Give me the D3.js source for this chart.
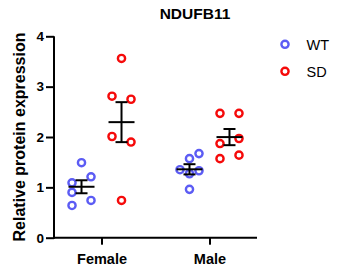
<!DOCTYPE html>
<html lang="en">

<head>
    <meta charset="utf-8">
    <title>NDUFB11</title>

    <style type="text/css">
        body {
            margin: 0;
            background-color: white;
        }
        text {
            font-family: "Liberation Sans", Arial, sans-serif;
        }
    </style>

    <script type="text/javascript" src="https://cdnjs.cloudflare.com/ajax/libs/d3/7.8.5/d3.min.js"></script>
</head>

<body>
    <script type="text/javascript">
        var w = 339
        var h = 270

        // data
        var categories = ["Female", "Male"];
        var groups = ["WT", "SD"];
        var yTicks = [0, 1, 2, 3, 4];

        var femaleWT = [1.49, 1.21, 1.09, 0.90, 0.74, 0.64];
        var femaleSD = [3.56, 2.81, 2.75, 2.01, 1.90, 0.74];
        var maleWT = [1.67, 1.57, 1.35, 1.33, 1.27, 0.96];
        var maleSD = [2.47, 2.47, 1.87, 1.97, 1.57, 1.64];

        // scatter lane of each point (-1 left, 0 middle, 1 right)
        var femaleWTLane = [0, 1, -1, -1, 1, -1];
        var femaleSDLane = [0, -1, 1, -1, 1, 0];
        var maleWTLane = [1, 0, -1, 1, 0, 0];
        var maleSDLane = [-1, 1, -1, 1, -1, 1];

        var colors = { WT: "#5c5cf4", SD: "#f50a0a" };

        var sets = [
            { cat: "Female", group: "WT", values: femaleWT, lanes: femaleWTLane },
            { cat: "Female", group: "SD", values: femaleSD, lanes: femaleSDLane },
            { cat: "Male", group: "WT", values: maleWT, lanes: maleWTLane },
            { cat: "Male", group: "SD", values: maleSD, lanes: maleSDLane }
        ];

        var plotLeft = 54, plotRight = 257, plotTop = 36.3, plotBottom = 237.7;

        var svg = d3.select("body")
                    .append("svg")
                    .attr("width", w)
                    .attr("height", h);

        var x = d3.scalePoint()
                  .domain(categories)
                  .range([plotLeft, plotRight])
                  .padding(0.44);

        var xGroup = d3.scalePoint()
                       .domain(groups)
                       .range([-20, 20]);

        var y = d3.scaleLinear()
                  .domain([0, 4])
                  .range([plotBottom, plotTop]);

        var laneStep = 9.5;

        // axes
        var yAxis = svg.append("g")
                       .attr("transform", "translate(" + plotLeft + ",0)")
                       .call(d3.axisLeft(y).tickValues(yTicks).tickSize(8).tickPadding(2).tickFormat(d3.format("d")));

        var xAxis = svg.append("g")
                       .attr("transform", "translate(0," + plotBottom + ")")
                       .call(d3.axisBottom(x).tickSize(7).tickPadding(9).tickSizeOuter(0));

        svg.selectAll(".domain, .tick line")
           .attr("stroke", "black")
           .attr("stroke-width", 2);

        // x axis line runs the whole plot width
        xAxis.select(".domain").attr("d", "M" + (plotLeft - 1) + ",0H" + plotRight);
        yAxis.select(".domain").attr("d", "M0," + y(4) + "V" + (plotBottom + 1));

        yAxis.selectAll("text")
             .attr("font-size", "13.5px")
             .attr("font-weight", "bold")
             .attr("fill", "black");

        xAxis.selectAll("text")
             .attr("font-size", "14.5px")
             .attr("font-weight", "bold")
             .attr("fill", "black");

        // points
        sets.forEach(function (s) {
            var cx = x(s.cat) + xGroup(s.group);
            svg.append("g")
               .selectAll("circle")
               .data(s.values)
               .enter()
               .append("circle")
               .attr("cx", function (d, i) {
                   return cx + s.lanes[i] * laneStep;
               })
               .attr("cy", function (d) {
                   return y(d);
               })
               .attr("r", 3.6)
               .attr("fill", "none")
               .attr("stroke", colors[s.group])
               .attr("stroke-width", 2.4);
        });

        // mean +/- SEM
        sets.forEach(function (s) {
            var cx = x(s.cat) + xGroup(s.group);
            var m = d3.mean(s.values);
            var sem = d3.deviation(s.values) / Math.sqrt(s.values.length);
            var g = svg.append("g")
                       .attr("stroke", "black")
                       .attr("stroke-width", 2);
            g.append("line")
             .attr("x1", cx - 13).attr("x2", cx + 13)
             .attr("y1", y(m)).attr("y2", y(m));
            g.append("line")
             .attr("x1", cx).attr("x2", cx)
             .attr("y1", y(m + sem)).attr("y2", y(m - sem));
            g.append("line")
             .attr("x1", cx - 6).attr("x2", cx + 6)
             .attr("y1", y(m + sem)).attr("y2", y(m + sem));
            g.append("line")
             .attr("x1", cx - 6).attr("x2", cx + 6)
             .attr("y1", y(m - sem)).attr("y2", y(m - sem));
        });

        // title
        svg.append("text")
           .text("NDUFB11")
           .attr("x", 195)
           .attr("y", 19)
           .attr("text-anchor", "middle")
           .attr("font-size", "15.5px")
           .attr("font-weight", "bold");

        // y label
        svg.append("text")
           .text("Relative protein expression")
           .attr("transform", "translate(24.5," + ((plotTop + plotBottom) / 2) + ") rotate(-90)")
           .attr("text-anchor", "middle")
           .attr("font-size", "16px")
           .attr("font-weight", "bold");

        // legend
        var legend = svg.selectAll(".legend")
                        .data(groups)
                        .enter()
                        .append("g")
                        .attr("class", "legend")
                        .attr("transform", function (d, i) {
                            return "translate(285," + (44.3 + i * 27) + ")";
                        });

        legend.append("circle")
              .attr("r", 3.6)
              .attr("fill", "none")
              .attr("stroke", function (d) { return colors[d]; })
              .attr("stroke-width", 2.4);

        legend.append("text")
              .text(function (d) { return d; })
              .attr("x", 21.5)
              .attr("y", 6)
              .attr("font-size", "14.5px");
    </script>
</body>

</html>
